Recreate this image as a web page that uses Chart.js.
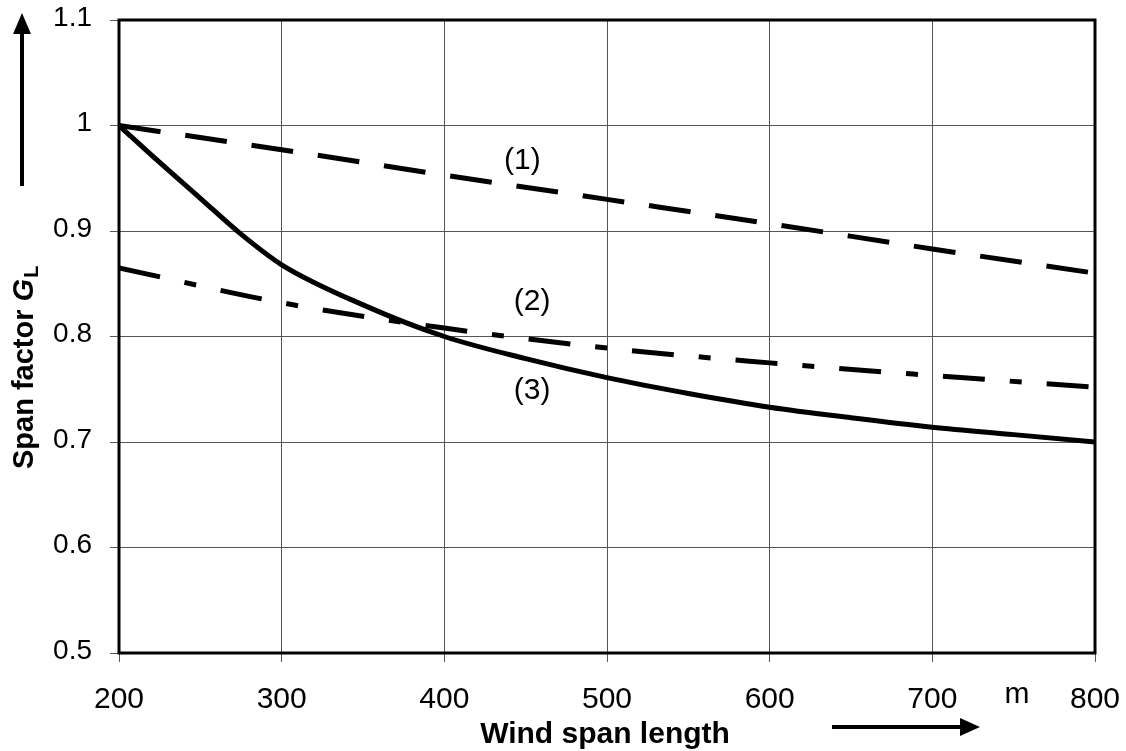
<!DOCTYPE html>
<html>
<head>
<meta charset="utf-8">
<script src="https://cdn.jsdelivr.net/npm/chart.js@4.4.1/dist/chart.umd.min.js"></script>
<style>
  html, body { margin: 0; padding: 0; background: #fff; }
  #wrap { width: 1126px; height: 751px; position: relative; }
</style>
</head>
<body>
<div id="wrap"><canvas id="c" width="1126" height="751"></canvas></div>
<script>
// ---- data ----
const spanLength = [200, 300, 400, 500, 600, 700, 800];
const curve1 = [1.000, 0.977, 0.953, 0.930, 0.907, 0.883, 0.860];
const curve2 = [0.865, 0.832, 0.808, 0.789, 0.775, 0.763, 0.752];
const curve3Span = [200, 225, 250, 275, 300, 350, 400, 450, 500, 550, 600, 650, 700, 750, 800];
const curve3 = [1.000, 0.965, 0.931, 0.897, 0.868, 0.830, 0.800, 0.779, 0.761, 0.746, 0.733, 0.723, 0.714, 0.707, 0.700];
const curveLabels = ['(1)', '(2)', '(3)'];
const curveLabelSpan = [448, 454, 454];
const curveLabelValue = [0.967, 0.833, 0.749];
const xTicks = [200, 300, 400, 500, 600, 700, 800];
const yTicks = [0.5, 0.6, 0.7, 0.8, 0.9, 1.0, 1.1];
const xTitle = 'Wind span length';
const yTitleMain = 'Span factor ';
const yTitleSymbol = 'G';
const yTitleSub = 'L';
const xUnit = 'm';
const xUnitAt = 752;

const FONT = '"Liberation Sans", Arial, sans-serif';

function pts(xs, ys) { return xs.map((x, i) => ({ x: x, y: ys[i] })); }

function noPad(s) { s.paddingTop = 0; s.paddingBottom = 0; s.paddingLeft = 0; s.paddingRight = 0; }

const decorations = {
  id: 'decorations',
  afterDraw(chart) {
    const ctx = chart.ctx;
    const ca = chart.chartArea;
    const xs = chart.scales.x, ys = chart.scales.y;
    ctx.save();
    // plot frame
    ctx.strokeStyle = '#000';
    ctx.lineWidth = 3;
    ctx.strokeRect(ca.left, ca.top, ca.right - ca.left, ca.bottom - ca.top);

    // curve labels
    ctx.fillStyle = '#000';
    ctx.font = '30px ' + FONT;
    ctx.textAlign = 'center';
    ctx.textBaseline = 'middle';
    curveLabels.forEach((t, i) => {
      ctx.fillText(t, xs.getPixelForValue(curveLabelSpan[i]), ys.getPixelForValue(curveLabelValue[i]));
    });

    // unit "m"
    ctx.font = '30px ' + FONT;
    ctx.textBaseline = 'alphabetic';
    ctx.fillText(xUnit, xs.getPixelForValue(xUnitAt), 703);

    // x title
    ctx.font = 'bold 30px ' + FONT;
    ctx.textAlign = 'center';
    ctx.textBaseline = 'alphabetic';
    ctx.fillText(xTitle, 605, 743);

    // x arrow
    ctx.lineWidth = 4;
    ctx.beginPath();
    ctx.moveTo(832, 727);
    ctx.lineTo(962, 727);
    ctx.stroke();
    ctx.beginPath();
    ctx.moveTo(980, 727);
    ctx.lineTo(960, 718);
    ctx.lineTo(960, 736);
    ctx.closePath();
    ctx.fill();

    // y title (rotated)
    ctx.save();
    ctx.translate(33, 469);
    ctx.rotate(-Math.PI / 2);
    ctx.textAlign = 'left';
    ctx.textBaseline = 'alphabetic';
    ctx.font = 'bold 29px ' + FONT;
    ctx.fillText(yTitleMain, 0, 0);
    let w = ctx.measureText(yTitleMain).width;
    ctx.font = 'italic bold 29px ' + FONT;
    ctx.fillText(yTitleSymbol, w, 0);
    w += ctx.measureText(yTitleSymbol).width + 1;
    ctx.font = 'bold 20px ' + FONT;
    ctx.fillText(yTitleSub, w, 5);
    ctx.restore();

    // y arrow
    ctx.lineWidth = 4;
    ctx.beginPath();
    ctx.moveTo(22, 186);
    ctx.lineTo(22, 32);
    ctx.stroke();
    ctx.beginPath();
    ctx.moveTo(22, 13);
    ctx.lineTo(13, 34);
    ctx.lineTo(31, 34);
    ctx.closePath();
    ctx.fill();
    ctx.restore();
  }
};

new Chart(document.getElementById('c'), {
  type: 'line',
  data: {
    datasets: [
      { label: '(1)', data: pts(spanLength, curve1), borderColor: '#000', borderWidth: 5,
        borderDash: [42, 25], pointRadius: 0, cubicInterpolationMode: 'monotone', borderCapStyle: 'butt' },
      { label: '(2)', data: pts(spanLength, curve2), borderColor: '#000', borderWidth: 5,
        borderDash: [42, 25, 12, 25], pointRadius: 0, cubicInterpolationMode: 'monotone', borderCapStyle: 'butt' },
      { label: '(3)', data: pts(curve3Span, curve3), borderColor: '#000', borderWidth: 5,
        pointRadius: 0, cubicInterpolationMode: 'monotone', borderCapStyle: 'butt' }
    ]
  },
  options: {
    responsive: false,
    animation: false,
    devicePixelRatio: 1,
    layout: { padding: { left: 0, top: 20, right: 31, bottom: 0 } },
    plugins: { legend: { display: false }, tooltip: { enabled: false } },
    scales: {
      x: {
        type: 'linear', min: xTicks[0], max: xTicks[xTicks.length - 1],
        afterBuildTicks: s => { s.ticks = xTicks.map(v => ({ value: v })); },
        afterFit: s => { s.height = 98; noPad(s); },
        ticks: { color: '#000', font: { family: FONT, size: 30 }, padding: 20, maxRotation: 0,
                 callback: v => String(v) },
        grid: { color: '#555', lineWidth: 1, tickLength: 9, drawTicks: true },
        border: { display: false }
      },
      y: {
        type: 'linear', min: yTicks[0], max: yTicks[yTicks.length - 1],
        afterBuildTicks: s => { s.ticks = yTicks.map(v => ({ value: v })); },
        afterFit: s => { s.width = 119; noPad(s); },
        ticks: { color: '#000', font: { family: FONT, size: 28 }, padding: 18, labelOffset: -2,
                 callback: v => String(Number(v.toFixed(1))) },
        grid: { color: '#555', lineWidth: 1, tickLength: 9, drawTicks: true },
        border: { display: false }
      }
    }
  },
  plugins: [decorations]
});
</script>
</body>
</html>
